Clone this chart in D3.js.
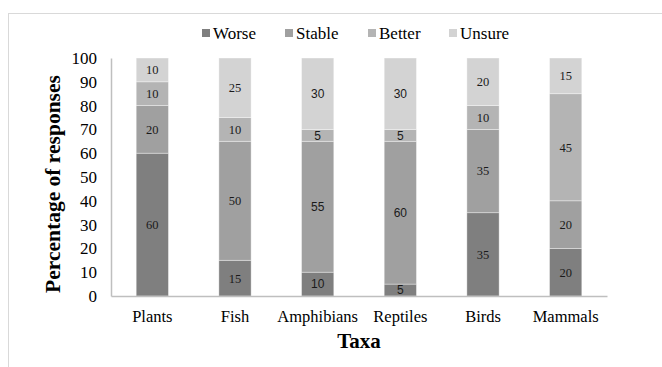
<!DOCTYPE html>
<html>
<head>
<meta charset="utf-8">
<script src="https://cdn.jsdelivr.net/npm/d3@7"></script>
<style>
  html, body { margin: 0; padding: 0; background: #fff; }
  svg { display: block; }
</style>
</head>
<body>
<svg id="chart" width="662" height="367"></svg>
<script>
const categories = ["Plants", "Fish", "Amphibians", "Reptiles", "Birds", "Mammals"];
const seriesNames = ["Worse", "Stable", "Better", "Unsure"];
const worse  = [60, 15, 10, 5, 35, 20];
const stable = [20, 50, 55, 60, 35, 20];
const better = [10, 10, 5, 5, 10, 45];
const unsure = [10, 25, 30, 30, 20, 15];
const yTicks = [0, 10, 20, 30, 40, 50, 60, 70, 80, 90, 100];
const colors = ["#7f7f7f", "#a0a0a0", "#b4b4b4", "#d3d3d3"];
const sansLabelCats = ["Amphibians", "Reptiles"];

const rows = categories.map((c, i) => ({
  cat: c, Worse: worse[i], Stable: stable[i], Better: better[i], Unsure: unsure[i]
}));

const svg = d3.select("#chart");
const serif = "Liberation Serif, Times New Roman, serif";
const sans = "Liberation Sans, Arial, sans-serif";

// outer frame
svg.append("rect").attr("x", 8.5).attr("y", 13.5).attr("width", 700).attr("height", 400)
  .attr("fill", "none").attr("stroke", "#d9d9d9").attr("stroke-width", 1);

const plot = { left: 111, right: 607, top: 58, bottom: 296 };

const x = d3.scaleBand().domain(categories).range([plot.left, plot.right]).paddingInner(0.61).paddingOuter(0.305);
const y = d3.scaleLinear().domain([0, 100]).range([plot.bottom, plot.top]);

const stacked = d3.stack().keys(seriesNames)(rows);

const g = svg.append("g");
stacked.forEach((layer, li) => {
  g.selectAll(null).data(layer).enter().append("rect")
    .attr("x", d => x(d.data.cat))
    .attr("width", x.bandwidth())
    .attr("y", d => y(d[1]))
    .attr("height", d => y(d[0]) - y(d[1]))
    .attr("fill", colors[li])
    .attr("stroke", "rgba(255,255,255,0.45)")
    .attr("stroke-width", 0.8);
});

// value labels
stacked.forEach((layer, li) => {
  g.selectAll(null).data(layer).enter().append("text")
    .attr("x", d => x(d.data.cat) + x.bandwidth() / 2)
    .attr("y", d => (y(d[0]) + y(d[1])) / 2)
    .attr("dy", "0.35em")
    .attr("text-anchor", "middle")
    .attr("font-family", d => sansLabelCats.includes(d.data.cat) ? sans : serif)
    .attr("font-size", d => sansLabelCats.includes(d.data.cat) ? 12 : 12.5)
    .attr("fill", "#1a1a1a")
    .text(d => d[1] - d[0]);
});

// y axis
const yAxis = d3.axisLeft(y).tickValues(yTicks).tickSize(0).tickPadding(14);
const ya = svg.append("g").attr("transform", `translate(${plot.left},0)`).call(yAxis);
ya.attr("font-family", serif);
ya.select(".domain").attr("stroke", "#bfbfbf").attr("stroke-width", 1.5);
ya.selectAll("text").attr("font-family", serif).attr("font-size", 17).attr("fill", "#000");

// x axis
const xAxis = d3.axisBottom(x).tickSize(0).tickPadding(14);
const xa = svg.append("g").attr("transform", `translate(0,${plot.bottom})`).call(xAxis);
xa.attr("font-family", serif);
xa.select(".domain").attr("stroke", "#bfbfbf").attr("stroke-width", 1.5);
xa.selectAll("text").attr("font-family", serif).attr("font-size", 16.5).attr("fill", "#000");

// axis titles
svg.append("text")
  .attr("transform", `translate(60,184) rotate(-90)`)
  .attr("text-anchor", "middle")
  .attr("font-family", serif).attr("font-weight", "bold").attr("font-size", 21.5)
  .text("Percentage of responses");

svg.append("text")
  .attr("x", (plot.left + plot.right) / 2).attr("y", 348)
  .attr("text-anchor", "middle")
  .attr("font-family", serif).attr("font-weight", "bold").attr("font-size", 21)
  .text("Taxa");

// legend
const legendX = [202, 285, 368, 449];
const leg = svg.append("g");
seriesNames.forEach((s, i) => {
  leg.append("rect").attr("x", legendX[i]).attr("y", 29).attr("width", 8).attr("height", 8)
    .attr("fill", colors[i]);
  leg.append("text").attr("x", legendX[i] + 11).attr("y", 38.5)
    .attr("font-family", serif).attr("font-size", 17).attr("fill", "#000")
    .text(s);
});
</script>
</body>
</html>
